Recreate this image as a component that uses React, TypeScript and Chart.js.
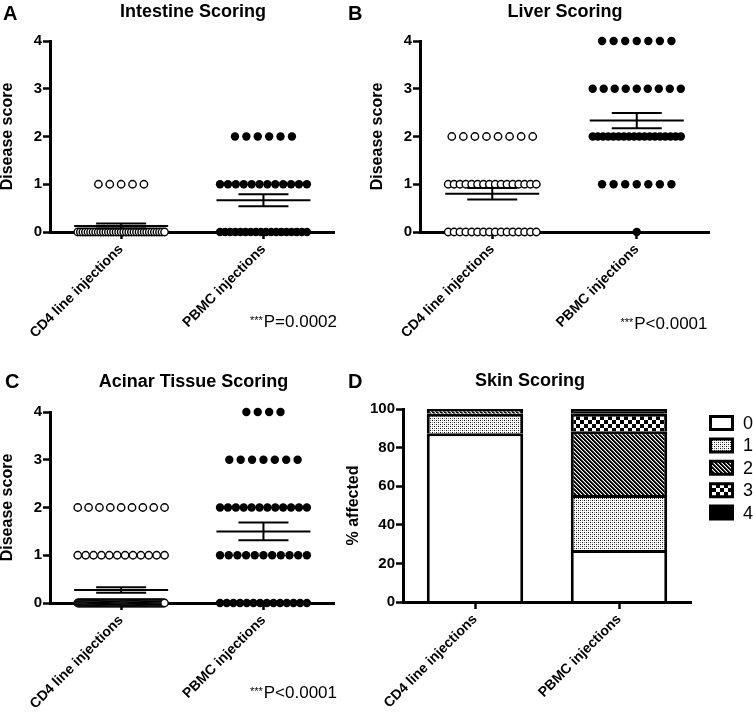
import React, { useEffect, useRef } from 'react';
import { Chart, registerables } from 'chart.js';

Chart.register(...registerables);

// ---------------- data ----------------
const groups = ['CD4 line injections', 'PBMC injections'];

// number of animals at each disease score (index = score 0..4)
const intestineCD4 = [35, 5, 0, 0, 0];
const intestinePBMC = [18, 12, 6, 0, 0];
const liverCD4 = [16, 16, 8, 0, 0];
const liverPBMC = [1, 7, 18, 9, 7];
const acinarCD4 = [90, 12, 9, 0, 0];
const acinarPBMC = [14, 11, 12, 7, 4];

const scoreTicks = [0, 1, 2, 3, 4];

// skin scoring: % affected per score
const skinLabels = ['0', '1', '2', '3', '4'];
const skinCD4 = [87.5, 10, 2.5, 0, 0];
const skinPBMC = [27, 28.5, 33, 9, 2.5];

const pValues = ['P=0.0002', 'P<0.0001', 'P<0.0001'];

// ---------------- helpers ----------------
const FONT = '"Liberation Sans", Arial, Helvetica, sans-serif';
const STEP = 0.08; // horizontal swarm step (x units)
const MAX_HALF = 0.305; // max half-width of a swarm row (x units)

function swarm(counts: number[], center: number) {
  const pts: { x: number; y: number }[] = [];
  counts.forEach((n, score) => {
    if (!n) return;
    const step = n > 1 ? Math.min(STEP, (2 * MAX_HALF) / (n - 1)) : 0;
    for (let i = 0; i < n; i++) pts.push({ x: center + (i - (n - 1) / 2) * step, y: score });
  });
  return pts;
}

function stats(counts: number[]) {
  let n = 0;
  let s = 0;
  counts.forEach((c, v) => {
    n += c;
    s += c * v;
  });
  const m = s / n;
  let ss = 0;
  counts.forEach((c, v) => {
    ss += c * (v - m) * (v - m);
  });
  const sem = Math.sqrt(ss / (n - 1)) / Math.sqrt(n);
  return { m, sem };
}

type TextItem = {
  text: string;
  x: number;
  y: number;
  size: number;
  bold?: boolean;
  align?: CanvasTextAlign;
  stars?: boolean;
};

function textPlugin(items: TextItem[]) {
  return {
    id: 'panelText',
    afterDraw(chart: any) {
      const ctx: CanvasRenderingContext2D = chart.ctx;
      ctx.save();
      ctx.fillStyle = '#000';
      ctx.textBaseline = 'alphabetic';
      for (const it of items) {
        ctx.font = `${it.bold ? 'bold ' : ''}${it.size}px ${FONT}`;
        ctx.textAlign = it.align ?? 'left';
        ctx.fillText(it.text, it.x, it.y);
        if (it.stars) {
          const w = ctx.measureText(it.text).width;
          ctx.font = `11px ${FONT}`;
          ctx.textAlign = 'right';
          ctx.fillText('***', it.x - w - 1, it.y - 3);
        }
      }
      ctx.restore();
    },
  };
}

function meanSemPlugin(groupStats: { pos: number; m: number; sem: number }[]) {
  return {
    id: 'meanSem',
    afterDatasetsDraw(chart: any) {
      const { ctx, scales } = chart;
      const xs = scales.x;
      const ys = scales.y;
      ctx.save();
      ctx.strokeStyle = '#000';
      ctx.lineWidth = 2;
      const line = (x1: number, y1: number, x2: number, y2: number) => {
        ctx.beginPath();
        ctx.moveTo(x1, y1);
        ctx.lineTo(x2, y2);
        ctx.stroke();
      };
      for (const g of groupStats) {
        const cx = xs.getPixelForValue(g.pos);
        const ym = ys.getPixelForValue(g.m);
        const yu = ys.getPixelForValue(g.m + g.sem);
        const yl = ys.getPixelForValue(g.m - g.sem);
        line(cx - 47, ym, cx + 47, ym);
        line(cx - 25, yu, cx + 25, yu);
        line(cx - 25, yl, cx + 25, yl);
        line(cx, yu, cx, yl);
      }
      ctx.restore();
    },
  };
}

function axisCommon() {
  return {
    border: { display: true, color: '#000', width: 3 },
    grid: {
      display: true,
      drawOnChartArea: false,
      drawTicks: true,
      tickLength: 7,
      tickWidth: 2.5,
      tickColor: '#000',
      color: '#000',
    },
  };
}

type Layout = {
  left: number;
  top: number;
  w: number;
  h: number;
  pad: { left: number; top: number; right: number; bottom: number };
  yWidth: number;
  xHeight: number;
};

function ScatterPanel(props: {
  cd4: number[];
  pbmc: number[];
  layout: Layout;
  texts: TextItem[];
}) {
  const ref = useRef<HTMLCanvasElement>(null);
  const { layout } = props;
  useEffect(() => {
    const s1 = stats(props.cd4);
    const s2 = stats(props.pbmc);
    const chart = new Chart(ref.current!, {
      type: 'scatter',
      data: {
        datasets: [
          {
            label: groups[0],
            data: swarm(props.cd4, 1),
            pointRadius: 3.7,
            pointBorderWidth: 1.4,
            pointBackgroundColor: '#fff',
            pointBorderColor: '#000',
            clip: false as any,
          },
          {
            label: groups[1],
            data: swarm(props.pbmc, 2),
            pointRadius: 4.2,
            pointBorderWidth: 0,
            pointBackgroundColor: '#000',
            pointBorderColor: '#000',
            clip: false as any,
          },
        ],
      },
      options: {
        responsive: false,
        animation: false,
        events: [],
        layout: { padding: layout.pad },
        plugins: { legend: { display: false }, tooltip: { enabled: false }, title: { display: false } },
        scales: {
          x: {
            type: 'linear',
            min: 0.5,
            max: 2.5,
            bounds: 'data',
            ...axisCommon(),
            afterBuildTicks: (s: any) => {
              s.ticks = [{ value: 1 }, { value: 2 }];
            },
            afterFit: (s: any) => {
              s.height = layout.xHeight;
            },
            ticks: {
              autoSkip: false,
              minRotation: 45,
              maxRotation: 45,
              padding: 2,
              color: '#000',
              font: { family: FONT, size: 14, weight: 'bold' },
              callback: (_v: any, i: number) => groups[i],
            },
          } as any,
          y: {
            type: 'linear',
            min: 0,
            max: 4,
            ...axisCommon(),
            afterFit: (s: any) => {
              s.width = layout.yWidth;
            },
            afterBuildTicks: (s: any) => {
              s.ticks = scoreTicks.map((v) => ({ value: v }));
            },
            ticks: {
              padding: 1,
              color: '#000',
              font: { family: FONT, size: 15, weight: 'bold' },
            },
            title: {
              display: true,
              text: 'Disease score',
              color: '#000',
              padding: 0,
              font: { family: FONT, size: 16, weight: 'bold', lineHeight: 1 },
            },
          } as any,
        },
      },
      plugins: [
        meanSemPlugin([
          { pos: 1, ...s1 },
          { pos: 2, ...s2 },
        ]),
        textPlugin(props.texts),
      ],
    });
    return () => chart.destroy();
  }, []);
  return (
    <canvas
      ref={ref}
      width={layout.w}
      height={layout.h}
      style={{ position: 'absolute', left: layout.left, top: layout.top, width: layout.w, height: layout.h }}
    />
  );
}

function makePatterns() {
  const mk = (size: number, draw: (ctx: CanvasRenderingContext2D) => void) => {
    const c = document.createElement('canvas');
    c.width = size;
    c.height = size;
    const ctx = c.getContext('2d')!;
    ctx.fillStyle = '#fff';
    ctx.fillRect(0, 0, size, size);
    draw(ctx);
    return ctx.createPattern(c, 'repeat')!;
  };
  const dots = mk(4, (ctx) => {
    ctx.fillStyle = '#111';
    ctx.fillRect(0, 0, 1, 1);
    ctx.fillRect(2, 2, 1, 1);
    ctx.fillStyle = '#888';
    ctx.fillRect(2, 0, 1, 1);
    ctx.fillRect(0, 2, 1, 1);
  });
  const diag = mk(4, (ctx) => {
    ctx.fillStyle = '#000';
    for (let i = 0; i < 4; i++) {
      ctx.fillRect(i, i, 1, 1);
      ctx.fillRect((i + 1) % 4, i, 1, 1);
    }
    ctx.fillStyle = '#666';
    for (let i = 0; i < 4; i++) ctx.fillRect((i + 2) % 4, i, 1, 1);
  });
  const check = mk(8, (ctx) => {
    ctx.fillStyle = '#000';
    ctx.fillRect(0, 0, 4, 4);
    ctx.fillRect(4, 4, 4, 4);
  });
  return ['#ffffff', dots, diag, check, '#000000'];
}

function legendPlugin(x: number, y0: number, dy: number) {
  return {
    id: 'patternLegend',
    afterDraw(chart: any) {
      const ctx: CanvasRenderingContext2D = chart.ctx;
      ctx.save();
      chart.data.datasets.forEach((ds: any, i: number) => {
        const cy = y0 + i * dy;
        ctx.fillStyle = ds.backgroundColor;
        ctx.strokeStyle = '#000';
        ctx.lineWidth = 3;
        ctx.beginPath();
        ctx.rect(x + 1.5, cy - 6.5, 22, 13);
        ctx.fill();
        ctx.stroke();
        ctx.fillStyle = '#000';
        ctx.font = `18px ${FONT}`;
        ctx.textAlign = 'left';
        ctx.textBaseline = 'middle';
        ctx.fillText(ds.label, x + 34, cy + 1);
      });
      ctx.restore();
    },
  };
}

function BarPanel(props: { layout: Layout; texts: TextItem[] }) {
  const ref = useRef<HTMLCanvasElement>(null);
  const { layout } = props;
  useEffect(() => {
    const pats = makePatterns();
    const chart = new Chart(ref.current!, {
      type: 'bar',
      data: {
        labels: groups,
        datasets: skinLabels.map((lab, i) => ({
          label: lab,
          data: [skinCD4[i], skinPBMC[i]],
          backgroundColor: pats[i] as any,
          borderColor: '#000',
          borderWidth: 3,
          barPercentage: 1,
          categoryPercentage: 0.67,
        })),
      },
      options: {
        responsive: false,
        animation: false,
        events: [],
        layout: { padding: layout.pad },
        plugins: { legend: { display: false }, tooltip: { enabled: false }, title: { display: false } },
        scales: {
          x: {
            stacked: true,
            ...axisCommon(),
            border: { display: true, color: '#000', width: 3, z: 1 },
            grid: { ...axisCommon().grid, offset: false },
            afterFit: (s: any) => {
              s.height = layout.xHeight;
            },
            ticks: {
              autoSkip: false,
              minRotation: 45,
              maxRotation: 45,
              padding: 2,
              color: '#000',
              font: { family: FONT, size: 14, weight: 'bold' },
            },
          } as any,
          y: {
            stacked: true,
            min: 0,
            max: 100,
            ...axisCommon(),
            afterFit: (s: any) => {
              s.width = layout.yWidth;
            },
            ticks: {
              stepSize: 20,
              padding: 1,
              color: '#000',
              font: { family: FONT, size: 15, weight: 'bold' },
            },
            title: {
              display: true,
              text: '% affected',
              color: '#000',
              padding: 0,
              font: { family: FONT, size: 16, weight: 'bold', lineHeight: 1 },
            },
          } as any,
        },
      },
      plugins: [textPlugin(props.texts), legendPlugin(369, 67, 22.4)],
    });
    return () => chart.destroy();
  }, []);
  return (
    <canvas
      ref={ref}
      width={layout.w}
      height={layout.h}
      style={{ position: 'absolute', left: layout.left, top: layout.top, width: layout.w, height: layout.h }}
    />
  );
}

export default function App() {
  const layA: Layout = { left: 0, top: 0, w: 340, h: 356, pad: { left: 0, top: 41, right: 3, bottom: 0 }, yWidth: 50, xHeight: 124 };
  const layB: Layout = { left: 340, top: 0, w: 413, h: 356, pad: { left: 30, top: 41, right: 44, bottom: 0 }, yWidth: 50, xHeight: 124 };
  const layC: Layout = { left: 0, top: 356, w: 340, h: 356, pad: { left: 0, top: 56, right: 2, bottom: 0 }, yWidth: 50, xHeight: 109 };
  const layD: Layout = { left: 340, top: 356, w: 413, h: 356, pad: { left: 6, top: 53, right: 62, bottom: 0 }, yWidth: 57, xHeight: 110 };
  return (
    <div style={{ position: 'absolute', left: 0, top: 0, width: 753, height: 712, background: '#fff', overflow: 'hidden' }}>
      <ScatterPanel
        cd4={intestineCD4}
        pbmc={intestinePBMC}
        layout={layA}
        texts={[
          { text: 'A', x: 3, y: 20, size: 20, bold: true },
          { text: 'Intestine Scoring', x: 193, y: 16.5, size: 18, bold: true, align: 'center' },
          { text: pValues[0], x: 337, y: 327, size: 17, align: 'right', stars: true },
        ]}
      />
      <ScatterPanel
        cd4={liverCD4}
        pbmc={liverPBMC}
        layout={layB}
        texts={[
          { text: 'B', x: 8, y: 20, size: 20, bold: true },
          { text: 'Liver Scoring', x: 225, y: 16.5, size: 18, bold: true, align: 'center' },
          { text: pValues[1], x: 367.5, y: 329, size: 17, align: 'right', stars: true },
        ]}
      />
      <ScatterPanel
        cd4={acinarCD4}
        pbmc={acinarPBMC}
        layout={layC}
        texts={[
          { text: 'C', x: 5, y: 31.5, size: 20, bold: true },
          { text: 'Acinar Tissue Scoring', x: 193.5, y: 31.3, size: 18, bold: true, align: 'center' },
          { text: pValues[2], x: 337, y: 342.3, size: 17, align: 'right', stars: true },
        ]}
      />
      <BarPanel
        layout={layD}
        texts={[
          { text: 'D', x: 8, y: 31.5, size: 20, bold: true },
          { text: 'Skin Scoring', x: 190, y: 30, size: 18, bold: true, align: 'center' },
        ]}
      />
    </div>
  );
}
